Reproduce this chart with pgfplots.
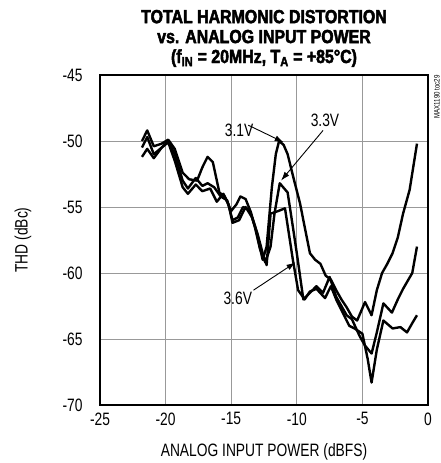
\documentclass[border=0pt]{standalone}
\usepackage{pgfplots}
\pgfplotsset{compat=1.18}
\usetikzlibrary{calc,arrows.meta}
\usepackage{fontspec}
\setmainfont{Liberation Sans}[FakeStretch=0.77]
\newfontfamily\titlefont{Liberation Sans}[FakeStretch=0.84,FakeBold=2.5]
\newcommand\lbl{\fontsize{18}{20}\selectfont}

\begin{document}
\begin{tikzpicture}
\begin{axis}[
    scale only axis,
    width=328bp, height=330bp,
    xmin=-25, xmax=0, ymin=-70, ymax=-45,
    xtick={-25,-20,...,0}, ytick={-70,-65,...,-45},
    xticklabels={-25,-20,-15,-10,-5,0},
    yticklabels={-70,-65,-60,-55,-50,-45},
    tick label style={font=\lbl},
    major tick length=0pt,
    xticklabel style={yshift=-4bp},
    yticklabel style={xshift=-14bp},
    grid=major,
    major grid style={gray!80, line width=0.9bp},
    axis line style={line width=2.6bp},
    thd/.style={line width=2.4bp, black, no marks, line join=round},
    clip=true,
]
\addplot[thd] coordinates {(-21.8,-50.0) (-21.4,-49.2) (-20.9,-50.4) (-20.3,-50.2) (-19.8,-49.9) (-19.3,-50.6) (-18.7,-52.4) (-18.2,-52.9) (-17.6,-53.0) (-17.2,-52.0) (-16.8,-51.2) (-16.4,-51.6) (-15.9,-53.9) (-15.5,-54.2) (-15.0,-55.3) (-14.6,-54.8) (-14.3,-54.2) (-13.9,-54.4) (-13.5,-55.4) (-13.1,-56.8) (-12.6,-59.0) (-12.3,-58.0) (-11.9,-53.5) (-11.6,-51.0) (-11.35,-50.0) (-11.0,-50.3) (-10.7,-51.0) (-10.2,-53.0) (-9.76,-54.7) (-9.3,-57.0) (-9.0,-58.5) (-8.6,-59.0) (-8.2,-59.3) (-7.8,-60.2) (-7.4,-60.5) (-7.0,-61.3) (-6.6,-62.0) (-6.2,-62.6) (-5.8,-63.3) (-5.4,-63.6) (-4.8,-62.2) (-4.3,-63.2) (-3.9,-61.3) (-3.5,-60.0) (-3.1,-59.3) (-2.7,-58.5) (-2.3,-57.3) (-1.9,-55.5) (-1.4,-53.7) (-0.84,-50.2)};
\addplot[thd] coordinates {(-21.8,-50.5) (-21.4,-49.7) (-20.9,-51.0) (-20.3,-50.5) (-19.8,-50.0) (-19.3,-51.0) (-18.7,-53.0) (-18.3,-53.6) (-17.7,-52.8) (-17.2,-53.4) (-16.8,-53.2) (-16.3,-53.5) (-15.8,-54.2) (-15.3,-54.5) (-14.9,-56.0) (-14.5,-55.8) (-14.1,-55.0) (-13.6,-55.2) (-13.2,-56.5) (-12.8,-58.2) (-12.4,-59.2) (-12.0,-58.0) (-11.7,-55.5) (-11.3,-53.2) (-10.7,-53.9) (-10.3,-56.5) (-10.0,-58.5) (-9.5,-62.0) (-9.0,-61.5) (-8.5,-61.0) (-8.0,-61.5) (-7.5,-60.3) (-7.0,-61.8) (-6.6,-62.5) (-6.2,-63.2) (-5.8,-63.5) (-5.2,-64.8) (-4.8,-65.5) (-4.3,-66.1) (-3.9,-64.5) (-3.4,-62.3) (-2.75,-63.0) (-2.3,-62.0) (-1.9,-61.2) (-1.2,-60.0) (-0.84,-58.0)};
\addplot[thd] coordinates {(-21.8,-51.2) (-21.4,-50.6) (-20.9,-51.3) (-20.3,-50.5) (-19.8,-50.1) (-19.3,-51.5) (-18.7,-53.5) (-18.3,-54.0) (-17.7,-53.3) (-17.2,-53.8) (-16.6,-53.6) (-16.1,-54.6) (-15.6,-54.0) (-15.2,-54.8) (-14.9,-56.2) (-14.4,-56.0) (-13.9,-55.0) (-13.4,-55.8) (-13.0,-57.0) (-12.6,-58.5) (-12.3,-59.4) (-12.0,-55.5) (-11.4,-55.3) (-10.9,-55.1) (-10.3,-59.0) (-9.9,-61.3) (-9.4,-62.0) (-9.0,-61.4) (-8.5,-61.2) (-7.85,-61.9) (-7.4,-61.0) (-7.0,-62.0) (-6.5,-63.0) (-6.0,-64.0) (-5.6,-64.2) (-5.0,-64.6) (-4.6,-66.5) (-4.3,-68.3) (-3.9,-65.8) (-3.4,-63.6) (-2.7,-64.2) (-2.1,-64.1) (-1.6,-64.5) (-1.2,-63.8) (-0.84,-63.2)};

% labels and arrows
\node[font=\lbl] at (axis cs:-14.4,-49.2) {3.1V};
\draw[line width=0.9bp, -{Latex[length=9bp,width=6bp]}] (axis cs:-13.7,-48.8) -- (axis cs:-11.0,-50.1);
\node[font=\lbl] at (axis cs:-7.85,-48.4) {3.3V};
\draw[line width=0.9bp, -{Latex[length=9bp,width=6bp]}] (axis cs:-8.0,-49.2) -- (axis cs:-11.2,-53.0);
\node[font=\lbl] at (axis cs:-14.5,-61.9) {3.6V};
\draw[line width=0.9bp, -{Latex[length=9bp,width=6bp]}] (axis cs:-13.3,-61.3) -- (axis cs:-10.1,-59.2);

\coordinate (sw) at (rel axis cs:0,0);
\coordinate (ne) at (rel axis cs:1,1);
\end{axis}

\path let \p1=(sw), \p2=(ne) in
  node[font=\titlefont\bfseries\fontsize{19}{20}\selectfont, align=center, anchor=base]
    at ($(\x1/2+\x2/2, \y2)+(0,12bp)$)
    {TOTAL HARMONIC DISTORTION\\vs. ANALOG INPUT POWER\\(f\textsubscript{IN} = 20MHz, T\textsubscript{A} = +85°C)};
\path let \p1=(sw), \p2=(ne) in
  node[font=\lbl, anchor=base]
    at ($(\x1/2+\x2/2, \y1)+(0,-51bp)$) {ANALOG INPUT POWER (dBFS)};
\path let \p1=(sw), \p2=(ne) in
  node[font=\lbl, rotate=90]
    at ($(\x1, \y1/2+\y2/2)+(-77bp,0)$) {THD (dBc)};
\node[font=\fontsize{8}{9}\selectfont, rotate=90, anchor=east, inner sep=0pt]
    at ($(ne)+(9bp,0)$) {MAX1190 toc29};

\pgfresetboundingbox
\path[use as bounding box] ($(sw)+(-100bp,-58bp)$) rectangle ($(ne)+(13bp,75bp)$);
\end{tikzpicture}
\end{document}
